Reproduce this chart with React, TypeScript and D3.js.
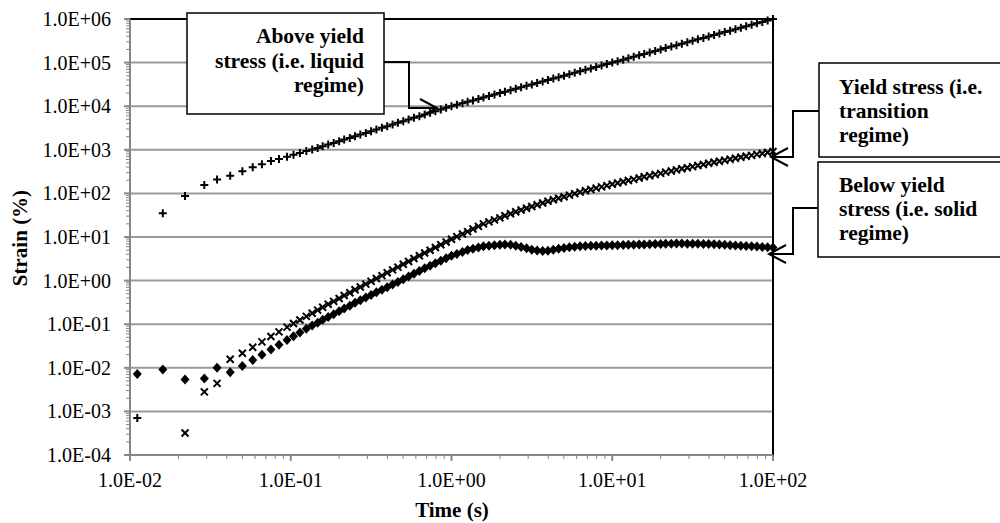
import React from "react";
import * as d3 from "d3";

const times = [0.0111,0.016,0.022,0.029,0.0348,0.042,0.05,0.058,0.0662,0.0753,0.0845,0.0948,0.104,0.114,0.125,0.136,
0.147,0.158,0.171,0.185,0.2,0.215,0.233,0.251,0.271,0.293,0.316,0.341,0.369,0.398,0.43,0.464,0.501,0.541,0.584,0.631,0.681,0.736,0.794,0.858,0.926,
1,1.08,1.17,1.26,1.36,1.47,1.58,1.71,1.85,2,2.15,2.33,2.51,2.71,2.93,3.16,3.41,3.69,3.98,4.3,4.64,5.01,5.41,5.84,6.31,6.81,7.36,7.94,8.58,9.26,
10,10.8,11.7,12.6,13.6,14.7,15.8,17.1,18.5,20,21.5,23.3,25.1,27.1,29.3,31.6,34.1,36.9,39.8,43,46.4,50.1,54.1,58.4,63.1,68.1,73.6,79.4,85.8,92.6,100];

const aboveYield = [7.1e-4,35,87,155,209,255,324,398,465,553,617,693,765,850,935,1010,
1104,1205,1318,1439,1570,1718,1875,2046,2239,2443,2667,2917,3184,3475,3802,4150,4529,4955,5408,5902,6457,7047,7691,8414,9183,
10000,10800,11700,12600,13600,14700,15800,17100,18500,20000,21500,23300,25100,27100,29300,31600,34100,36900,39800,43000,46400,50100,54100,58400,63100,68100,73600,79400,85800,92600,
100000,108000,117000,126000,136000,147000,158000,171000,185000,200000,215000,233000,251000,271000,293000,316000,341000,369000,398000,430000,464000,501000,541000,584000,631000,681000,736000,794000,858000,926000,1000000];

const atYield: (number | null)[] = [null,null,3.2e-4,2.8e-3,4.4e-3,0.0157,0.0215,0.0295,0.0394,0.0521,0.0667,0.0855,0.1035,0.125,0.151,0.179,
0.21,0.245,0.286,0.334,0.389,0.454,0.528,0.617,0.716,0.832,0.966,1.12,1.3,1.51,1.76,2.04,2.37,2.75,3.2,3.72,4.3,4.98,5.75,6.65,7.71,
8.91,10.2,11.7,13.3,15.2,17.5,20.0,22.2,24.7,27.5,30.7,34.1,38.0,41.7,45.7,50.1,55.0,60.3,66.1,71.6,77.6,84.1,91.2,98.9,107,115,123,132,141,151,
162,173,185,197,210,225,240,255,271,288,307,326,347,367,389,412,437,462,490,516,546,575,607,641,676,711,746,785,826,867,912];

const belowYield = [7.2e-3,9.2e-3,5.4e-3,5.7e-3,1.0e-2,7.9e-3,1.1e-2,0.015,0.02,0.0263,0.0339,0.0437,0.0531,0.0646,0.0785,0.0933,
0.108,0.126,0.146,0.17,0.197,0.229,0.266,0.309,0.355,0.407,0.468,0.537,0.617,0.708,0.813,0.933,1.07,1.24,1.43,1.66,1.91,2.19,2.51,2.86,3.26,
3.72,4.1,4.54,5.01,5.35,5.71,6.1,6.28,6.49,6.68,6.76,6.61,6.31,5.89,5.5,5.13,4.9,4.79,4.84,5.09,5.35,5.62,5.8,5.98,6.17,6.21,6.26,6.31,6.36,6.41,
6.46,6.5,6.56,6.61,6.65,6.71,6.76,6.81,6.87,6.92,6.97,7.03,7.08,7.05,7.03,7.0,6.97,6.95,6.92,6.81,6.71,6.61,6.5,6.41,6.31,6.21,6.12,6.03,5.93,5.85,5.75];

const yTickValues = [1e-4,1e-3,1e-2,1e-1,1,1e1,1e2,1e3,1e4,1e5,1e6];
const yTickLabels = ["1.0E-04","1.0E-03","1.0E-02","1.0E-01","1.0E+00","1.0E+01","1.0E+02","1.0E+03","1.0E+04","1.0E+05","1.0E+06"];
const xTickValues = [1e-2,1e-1,1,1e1,1e2];
const xTickLabels = ["1.0E-02","1.0E-01","1.0E+00","1.0E+01","1.0E+02"];

const xTitle = "Time (s)";
const yTitle = "Strain (%)";
const noteAbove = ["Above yield", "stress (i.e. liquid", "regime)"];
const noteAt = ["Yield stress (i.e.", "transition", "regime)"];
const noteBelow = ["Below yield", "stress (i.e. solid", "regime)"];

const FONT = "'Liberation Serif', 'Times New Roman', serif";

export default function App() {
  const L = 130, R = 773, T = 19, B = 455;
  const x = d3.scaleLog().domain([0.01, 100]).range([L, R]);
  const y = d3.scaleLog().domain([1e-4, 1e6]).range([B, T]);

  const yMinor: number[] = [];
  for (let d = -4; d < 6; d++) for (let k = 2; k <= 9; k++) yMinor.push(k * Math.pow(10, d));
  const xMinor: number[] = [];
  for (let d = -2; d < 2; d++) for (let k = 2; k <= 9; k++) xMinor.push(k * Math.pow(10, d));

  const grid = "#9a9a9a";
  const axis = "#868686";
  const NOTE = 21.5;

  const arrow = (tx: number, ty: number, dir: number) =>
    `M${tx + dir * 17},${ty - 9}L${tx},${ty}L${tx + dir * 17},${ty + 9}`;

  return (
    <svg width={1000} height={523} style={{ position: "absolute", left: 0, top: 0, background: "#fff" }} fontFamily={FONT}>
      <rect x={0} y={0} width={1000} height={523} fill="#fff" />
      {yTickValues.map((v, i) => (
        <line key={"g" + i} x1={L} x2={R} y1={y(v)} y2={y(v)} stroke={grid} strokeWidth={2} />
      ))}
      <line x1={L} x2={R} y1={T} y2={T} stroke="#000" strokeWidth={2} />
      <line x1={R} x2={R} y1={T} y2={B} stroke="#000" strokeWidth={2} />
      <line x1={L} x2={L} y1={T} y2={B + 1} stroke={axis} strokeWidth={2} />
      {yMinor.map((v, i) => (
        <line key={"ym" + i} x1={L - 4} x2={L} y1={y(v)} y2={y(v)} stroke={axis} strokeWidth={1} />
      ))}
      {yTickValues.map((v, i) => (
        <line key={"yt" + i} x1={L - 6} x2={L} y1={y(v)} y2={y(v)} stroke={axis} strokeWidth={2} />
      ))}
      {yTickValues.map((v, i) => (
        <text key={"yl" + i} x={111} y={y(v) + 7} textAnchor="end" fontSize={20} fill="#000">
          {yTickLabels[i]}
        </text>
      ))}
      <line x1={L - 1} x2={R} y1={B} y2={B} stroke={axis} strokeWidth={2} />
      {xMinor.map((v, i) => (
        <line key={"xm" + i} x1={x(v)} x2={x(v)} y1={B} y2={B + 4} stroke={axis} strokeWidth={1} />
      ))}
      {xTickValues.map((v, i) => (
        <line key={"xt" + i} x1={x(v)} x2={x(v)} y1={B} y2={B + 6} stroke={axis} strokeWidth={2} />
      ))}
      {xTickValues.map((v, i) => (
        <text key={"xl" + i} x={x(v)} y={487} textAnchor="middle" fontSize={20} fill="#000">
          {xTickLabels[i]}
        </text>
      ))}
      <text x={452} y={517} textAnchor="middle" fontSize={21} fontWeight="bold">{xTitle}</text>
      <text transform="translate(27,238) rotate(-90)" textAnchor="middle" fontSize={21} fontWeight="bold">{yTitle}</text>

      {belowYield.map((v, i) => (
        <path key={"d" + i} transform={`translate(${x(times[i])},${y(v)})`} d="M0,-5L4.5,0L0,5L-4.5,0Z" fill="#000" />
      ))}
      {atYield.map((v, i) =>
        v == null ? null : (
          <path key={"x" + i} transform={`translate(${x(times[i])},${y(v)})`} d="M-3.5,-3.5L3.5,3.5M-3.5,3.5L3.5,-3.5" stroke="#000" strokeWidth={2} fill="none" />
        )
      )}
      {aboveYield.map((v, i) => (
        <path key={"p" + i} transform={`translate(${x(times[i])},${y(v)})`} d="M-4,0H4M0,-4V4" stroke="#000" strokeWidth={2} fill="none" />
      ))}

      <rect x={187} y={13} width={197} height={101} fill="#fff" stroke="#000" strokeWidth={1.5} />
      {noteAbove.map((s, i) => (
        <text key={"a" + i} x={364} y={43 + i * 24.5} textAnchor="end" fontSize={NOTE} fontWeight="bold">{s}</text>
      ))}
      <path d="M384,62H409V108H436" fill="none" stroke="#000" strokeWidth={2} />
      <path d={arrow(437, 108, -1)} fill="none" stroke="#000" strokeWidth={2} />

      <rect x={819} y={63} width={200} height={94} fill="#fff" stroke="#000" strokeWidth={1.5} />
      {noteAt.map((s, i) => (
        <text key={"b" + i} x={839} y={94 + i * 24} fontSize={NOTE} fontWeight="bold">{s}</text>
      ))}
      <path d="M819,111H793V157H772" fill="none" stroke="#000" strokeWidth={2} />
      <path d={arrow(771, 157, 1)} fill="none" stroke="#000" strokeWidth={2} />

      <rect x={818} y={162} width={200} height={95} fill="#fff" stroke="#000" strokeWidth={1.5} />
      {noteBelow.map((s, i) => (
        <text key={"c" + i} x={839} y={192 + i * 24} fontSize={NOTE} fontWeight="bold">{s}</text>
      ))}
      <path d="M818,208H793V254H770" fill="none" stroke="#000" strokeWidth={2} />
      <path d={arrow(769, 254, 1)} fill="none" stroke="#000" strokeWidth={2} />
    </svg>
  );
}
